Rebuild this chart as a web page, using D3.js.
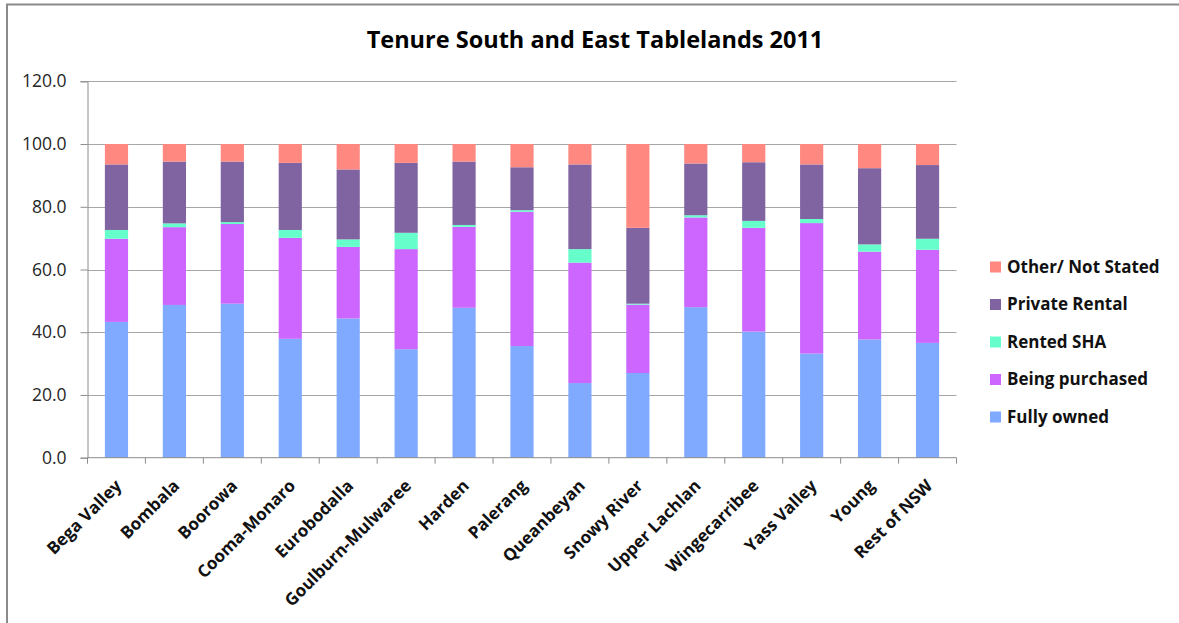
<!DOCTYPE html>
<html>
<head>
<meta charset="utf-8">
<script src="https://cdn.jsdelivr.net/npm/d3@7"></script>
<style>
  html, body { margin: 0; padding: 0; background: #fff; }
  svg { display: block; }
</style>
</head>
<body>
<svg id="chart" width="1179" height="623"></svg>
<script>
const categories = ["Bega Valley","Bombala","Boorowa","Cooma-Monaro","Eurobodalla","Goulburn-Mulwaree","Harden","Palerang","Queanbeyan","Snowy River","Upper Lachlan","Wingecarribee","Yass Valley","Young","Rest of NSW"];
const fullyOwned     = [43.3,48.7,49.1,37.9,44.4,34.6,47.8,35.6,23.8,27.0,48.0,40.2,33.2,37.7,36.6];
const beingPurchased = [26.5,24.8,25.4,32.2,22.8,31.9,25.8,42.8,38.4,21.8,28.6,33.1,41.6,28.0,29.7];
const rentedSHA      = [2.8,1.2,0.6,2.5,2.4,5.2,0.6,0.5,4.3,0.3,0.7,2.2,1.3,2.3,3.5];
const privateRental  = [20.9,19.7,19.3,21.4,22.3,22.3,20.2,13.7,27.0,24.2,16.5,18.7,17.4,24.3,23.5];
const otherNotStated = [6.5,5.6,5.6,6.0,8.1,6.0,5.6,7.4,6.5,26.7,6.2,5.8,6.5,7.7,6.7];
const seriesNames  = ["Fully owned","Being purchased","Rented SHA","Private Rental","Other/ Not Stated"];
const seriesColors = ["#80AAFF","#CC66FF","#66FFCC","#8064A2","#FF8880"];
const yTicks = [0,20,40,60,80,100,120];
const title = "Tenure South and East Tablelands 2011";

(function () {
const seriesValues = [fullyOwned, beingPurchased, rentedSHA, privateRental, otherNotStated];
const rows = categories.map((c, i) => {
  const r = { cat: c };
  seriesNames.forEach((s, k) => r[s] = seriesValues[k][i]);
  return r;
});
const stacked = d3.stack().keys(seriesNames)(rows);

const svg = d3.select("#chart");
const font = "'Open Sans', 'DejaVu Sans', sans-serif";

// outer frame
svg.append("path")
  .attr("d", "M7,623 V4.5 H1179")
  .attr("fill", "none").attr("stroke", "#8a8a8a").attr("stroke-width", 2);

const pLeft = 87.5, pRight = 956.5, pTop = 81.3, pBottom = 457.7;
const x = d3.scaleBand().domain(categories).range([pLeft, pRight]).paddingInner(0.6).paddingOuter(0.3);
const y = d3.scaleLinear().domain([0, 120]).range([pBottom, pTop]);

// gridlines
svg.append("g").selectAll("line").data(yTicks.filter(t => t > 0)).join("line")
  .attr("x1", pLeft).attr("x2", pRight)
  .attr("y1", d => Math.round(y(d)) + 0.5).attr("y2", d => Math.round(y(d)) + 0.5)
  .attr("stroke", "#a6a6a6").attr("stroke-width", 1);

// bars
svg.append("g").selectAll("g").data(stacked).join("g")
  .attr("fill", (d, i) => seriesColors[i])
  .selectAll("rect").data(d => d).join("rect")
  .attr("x", d => x(d.data.cat))
  .attr("width", x.bandwidth())
  .attr("y", d => y(d[1]))
  .attr("height", d => y(d[0]) - y(d[1]));

// y axis
const yAxis = d3.axisLeft(y).tickValues(yTicks).tickSize(7).tickPadding(14).tickFormat(d3.format(".1f"));
const gy = svg.append("g").attr("transform", `translate(${pLeft},0)`).call(yAxis);
gy.select(".domain").attr("stroke", "#8c8c8c");
gy.selectAll(".tick line").attr("stroke", "#8c8c8c");
gy.selectAll(".tick text").attr("font-family", font).attr("font-size", 17.5).attr("fill", "#262626");

// x axis: ticks at category boundaries
const step = x.step();
const boundaries = d3.range(categories.length + 1).map(i => pLeft + i * step);
const gx = svg.append("g");
gx.append("line").attr("x1", pLeft).attr("x2", pRight).attr("y1", pBottom).attr("y2", pBottom).attr("stroke", "#8c8c8c");
gx.selectAll("line.tk").data(boundaries).join("line").attr("class", "tk")
  .attr("x1", d => d).attr("x2", d => d).attr("y1", pBottom).attr("y2", pBottom + 6).attr("stroke", "#8c8c8c");
gx.selectAll("text").data(categories).join("text")
  .attr("transform", d => `translate(${x(d) + x.bandwidth() / 2 + 2},${pBottom + 25}) rotate(-45)`)
  .attr("text-anchor", "end")
  .attr("dy", "0.35em")
  .attr("font-family", font).attr("font-weight", "bold").attr("font-size", 17).attr("fill", "#111")
  .text(d => d);

// title
svg.append("text").attr("x", 595).attr("y", 48)
  .attr("text-anchor", "middle").attr("font-family", font).attr("font-weight", "bold")
  .attr("font-size", 23.5).attr("fill", "#000").text(title);

// legend
const legendOrder = [4, 3, 2, 1, 0];
const lg = svg.append("g");
legendOrder.forEach((k, i) => {
  const cy = 267 + i * 37.5;
  lg.append("rect").attr("x", 990).attr("y", cy - 5.5).attr("width", 11).attr("height", 11).attr("fill", seriesColors[k]);
  lg.append("text").attr("x", 1007).attr("y", cy).attr("dy", "0.35em")
    .attr("font-family", font).attr("font-weight", "bold").attr("font-size", 17).attr("fill", "#111")
    .text(seriesNames[k]);
});
})();
</script>
</body>
</html>
